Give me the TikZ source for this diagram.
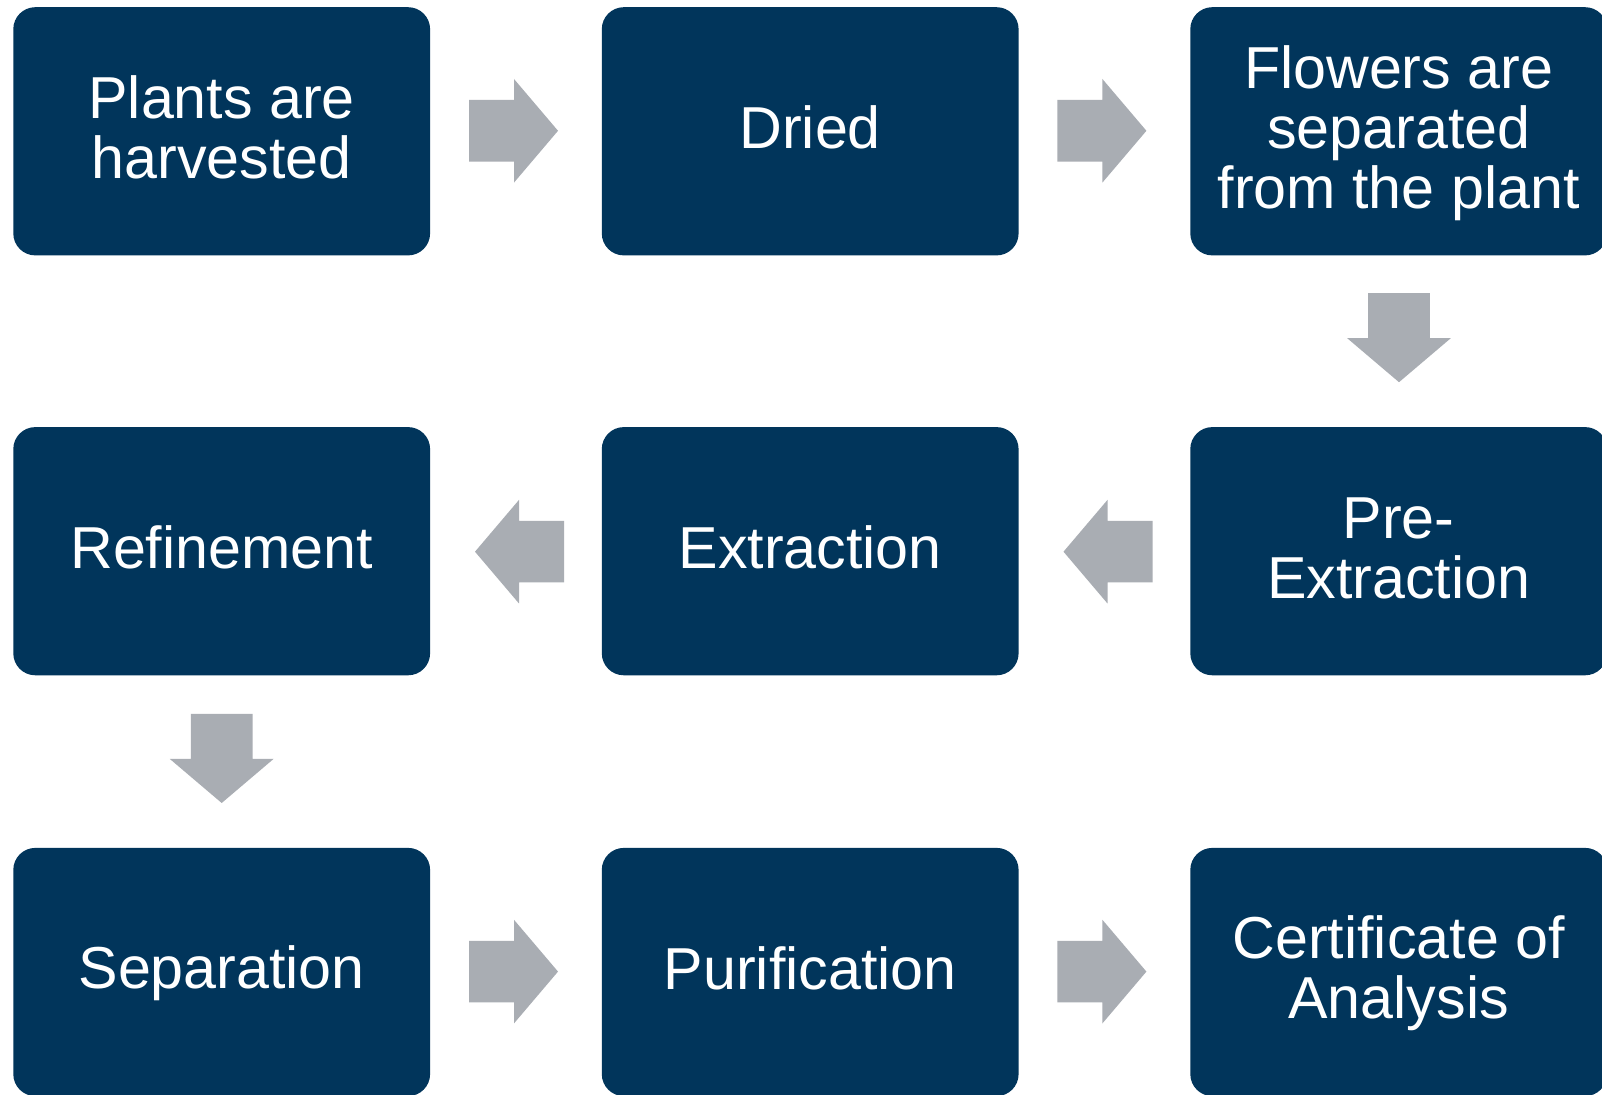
\documentclass[tikz,border=0pt]{standalone}
\usepackage{fontspec}
\setmainfont{Liberation Sans}
\definecolor{boxc}{HTML}{01355B}
\definecolor{arrc}{HTML}{A9ADB3}
\newcommand\mystrut{\rule[-5.4pt]{0pt}{28.4pt}}
\begin{document}
\begin{tikzpicture}[x=0.5pt,y=-0.5pt,
  stepbox/.style={fill=boxc, draw=none, rounded corners=11pt, minimum width=208.4pt, minimum height=124.1pt,
    text=white, align=center, inner sep=0pt, font=\fontsize{29.6}{30}\selectfont},
  pics/blockarrow/.style={code={
    \fill[arrc] (-45,-30.8) -- (0,-30.8) -- (0,-51.8) -- (44,0) -- (0,51.8) -- (0,30.8) -- (-45,30.8) -- cycle;
  }}]
\clip (0,0) rectangle (1602,1095);
\fill[white] (0,0) rectangle (1602,1095);
% nodes (centers)
\node[stepbox] (n1) at (221.7,131.3) {\mystrut Plants are\\\mystrut harvested};
\node[stepbox] (n2) at (810.2,131.3) {\mystrut Dried};
\node[stepbox] (n3) at (1398.7,131.3) {\mystrut Flowers are\\\mystrut separated\\\mystrut from the plant};
\node[stepbox] (n4) at (1398.7,551.2) {\mystrut Pre-\\\mystrut Extraction};
\node[stepbox] (n5) at (810.2,551.2) {\mystrut Extraction};
\node[stepbox] (n6) at (221.7,551.2) {\mystrut Refinement};
\node[stepbox] (n7) at (221.7,972) {\mystrut Separation};
\node[stepbox] (n8) at (810.2,972) {\mystrut Purification};
\node[stepbox] (n9) at (1398.7,972) {\mystrut Certificate of\\\mystrut Analysis};
% block arrows
\pic at (514,130.8) {blockarrow};
\pic at (1102.4,130.8) {blockarrow};
\pic[rotate=-90] at (1399,338.2) {blockarrow};
\pic[rotate=180] at (1107.5,551.7) {blockarrow};
\pic[rotate=180] at (519,551.7) {blockarrow};
\pic[rotate=-90] at (221.7,759) {blockarrow};
\pic at (514,971.6) {blockarrow};
\pic at (1102.4,971.6) {blockarrow};
\end{tikzpicture}
\end{document}
